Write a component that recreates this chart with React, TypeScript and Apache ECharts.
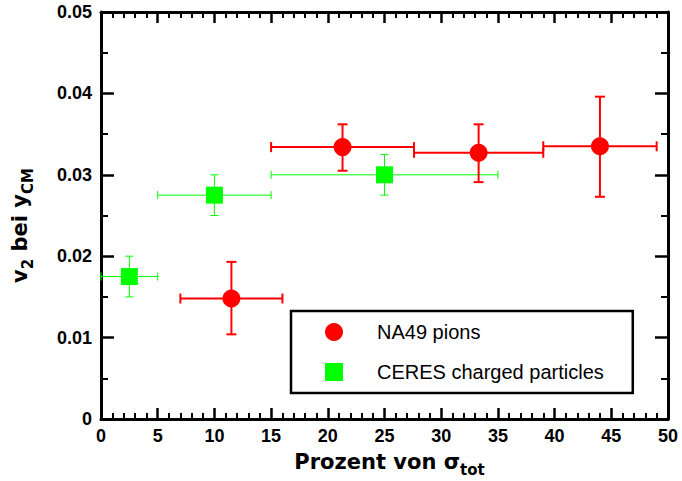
import React, { useEffect, useRef } from "react";
import * as echarts from "echarts";

const naX = [11.5, 21.3, 33.3, 44.0];
const naY = [0.0148, 0.0334, 0.0327, 0.0335];
const naXLo = [7.0, 15.0, 27.6, 39.0];
const naXHi = [16.0, 27.6, 39.0, 49.0];
const naYLo = [0.0104, 0.0305, 0.0291, 0.0273];
const naYHi = [0.0193, 0.0362, 0.0362, 0.0396];

const ceX = [2.5, 10, 25];
const ceY = [0.0175, 0.0275, 0.03];
const ceXLo = [0, 5, 15];
const ceXHi = [5, 15, 35];
const ceYLo = [0.015, 0.025, 0.0275];
const ceYHi = [0.02, 0.03, 0.0325];

const FONT = "'Liberation Sans', Arial, Helvetica, sans-serif";
const TFONT = "'DejaVu Sans', 'Liberation Sans', sans-serif";
const RED = "#ff0000";
const GREEN = "#00ff00";

function errData(x: number[], y: number[], xl: number[], xh: number[], yl: number[], yh: number[]) {
  return x.map((v, i) => [v, y[i], xl[i], xh[i], yl[i], yh[i]]);
}

function makeErrRender(color: string, width: number, cap: number) {
  return (params: any, api: any) => {
    const x = api.value(0), y = api.value(1);
    const xl = api.value(2), xh = api.value(3), yl = api.value(4), yh = api.value(5);
    const pL = api.coord([xl, y]);
    const pR = api.coord([xh, y]);
    const pB = api.coord([x, yl]);
    const pT = api.coord([x, yh]);
    const style = { stroke: color, lineWidth: width, fill: "none" };
    const line = (x1: number, y1: number, x2: number, y2: number) => ({
      type: "line",
      shape: { x1, y1, x2, y2 },
      style,
    });
    return {
      type: "group",
      children: [
        line(pL[0], pL[1], pR[0], pR[1]),
        line(pL[0], pL[1] - cap, pL[0], pL[1] + cap),
        line(pR[0], pR[1] - cap, pR[0], pR[1] + cap),
        line(pB[0], pB[1], pT[0], pT[1]),
        line(pB[0] - cap, pB[1], pB[0] + cap, pB[1]),
        line(pT[0] - cap, pT[1], pT[0] + cap, pT[1]),
      ],
    };
  };
}

const mainRich = { fontSize: 21, fontWeight: "bold", fontFamily: TFONT, color: "#000", lineHeight: 30 };
const subRich = { fontSize: 15, fontWeight: "bold", fontFamily: TFONT, color: "#000", lineHeight: 6, verticalAlign: "bottom" };

export default function App() {
  const ref = useRef<HTMLDivElement>(null);
  useEffect(() => {
    if (!ref.current) return;
    const chart = echarts.init(ref.current, null, { renderer: "svg" });
    const axisLine = { show: true, onZero: false, lineStyle: { color: "#000", width: 3 } };
    const xCommon = {
      type: "value",
      min: 0,
      max: 50,
      interval: 5,
      axisLine,
      axisTick: { show: true, inside: true, length: 11, lineStyle: { color: "#000", width: 2.5 } },
      minorTick: { show: true, splitNumber: 5, length: 6, lineStyle: { color: "#000", width: 2 } },
      splitLine: { show: false },
    };
    const yCommon = {
      type: "value",
      min: 0,
      max: 0.05,
      interval: 0.01,
      axisLine,
      axisTick: { show: true, inside: true, length: 13, lineStyle: { color: "#000", width: 2.5 } },
      minorTick: { show: true, splitNumber: 2, length: 7, lineStyle: { color: "#000", width: 2 } },
      splitLine: { show: false },
    };
    const labelStyle = { fontSize: 18, fontWeight: "bold", fontFamily: FONT, color: "#000" };
    chart.setOption({
      animation: false,
      backgroundColor: "#fff",
      grid: { left: 101, right: 14, top: 12, bottom: 62, containLabel: false, outerBoundsMode: "none" },
      xAxis: [
        {
          ...xCommon,
          position: "bottom",
          axisLabel: { ...labelStyle, margin: 8 },
          name: "{m|Prozent von σ}{s|tot}",
          nameLocation: "middle",
          nameGap: 28,
          nameTextStyle: { padding: [0, 0, 0, 10], rich: { m: mainRich, s: subRich } },
        },
        { ...xCommon, position: "top", axisLabel: { show: false } },
      ],
      yAxis: [
        {
          ...yCommon,
          position: "left",
          axisLabel: { ...labelStyle, margin: 9, formatter: (v: number) => (v === 0 ? "0" : v.toFixed(2)) },
          name: "{m|v}{s|2}{m| bei y}{s|CM}",
          nameLocation: "middle",
          nameRotate: 90,
          nameGap: 66,
          nameTextStyle: { padding: [0, 20, 0, 0], rich: { m: mainRich, s: subRich } },
        },
        { ...yCommon, position: "right", axisLabel: { show: false } },
      ],
      legend: {
        orient: "vertical",
        left: 291,
        top: 311,
        itemWidth: 18,
        itemHeight: 18,
        itemGap: 20,
        padding: [11, 29, 11, 34],
        borderColor: "#000",
        borderWidth: 2.5,
        textStyle: { fontSize: 20, fontFamily: FONT, color: "#000", padding: [0, 0, 0, 29] },
        data: [
          { name: "NA49 pions", icon: "circle" },
          { name: "CERES charged particles", icon: "rect" },
        ],
      },
      series: [
        {
          type: "custom",
          name: "ceres-err",
          renderItem: makeErrRender(GREEN, 1, 4),
          data: errData(ceX, ceY, ceXLo, ceXHi, ceYLo, ceYHi),
          encode: { x: 0, y: 1 },
          z: 2,
          silent: true,
        },
        {
          type: "custom",
          name: "na49-err",
          renderItem: makeErrRender(RED, 2, 5),
          data: errData(naX, naY, naXLo, naXHi, naYLo, naYHi),
          encode: { x: 0, y: 1 },
          z: 2,
          silent: true,
        },
        {
          type: "scatter",
          name: "CERES charged particles",
          symbol: "rect",
          symbolSize: 17,
          itemStyle: { color: GREEN, opacity: 1 },
          data: ceX.map((v, i) => [v, ceY[i]]),
          z: 5,
        },
        {
          type: "scatter",
          name: "NA49 pions",
          symbol: "circle",
          symbolSize: 18,
          itemStyle: { color: RED, opacity: 1 },
          data: naX.map((v, i) => [v, naY[i]]),
          z: 5,
        },
      ],
    });
    return () => chart.dispose();
  }, []);
  return <div ref={ref} style={{ width: 682, height: 481, position: "absolute", left: 0, top: 0 }} />;
}
